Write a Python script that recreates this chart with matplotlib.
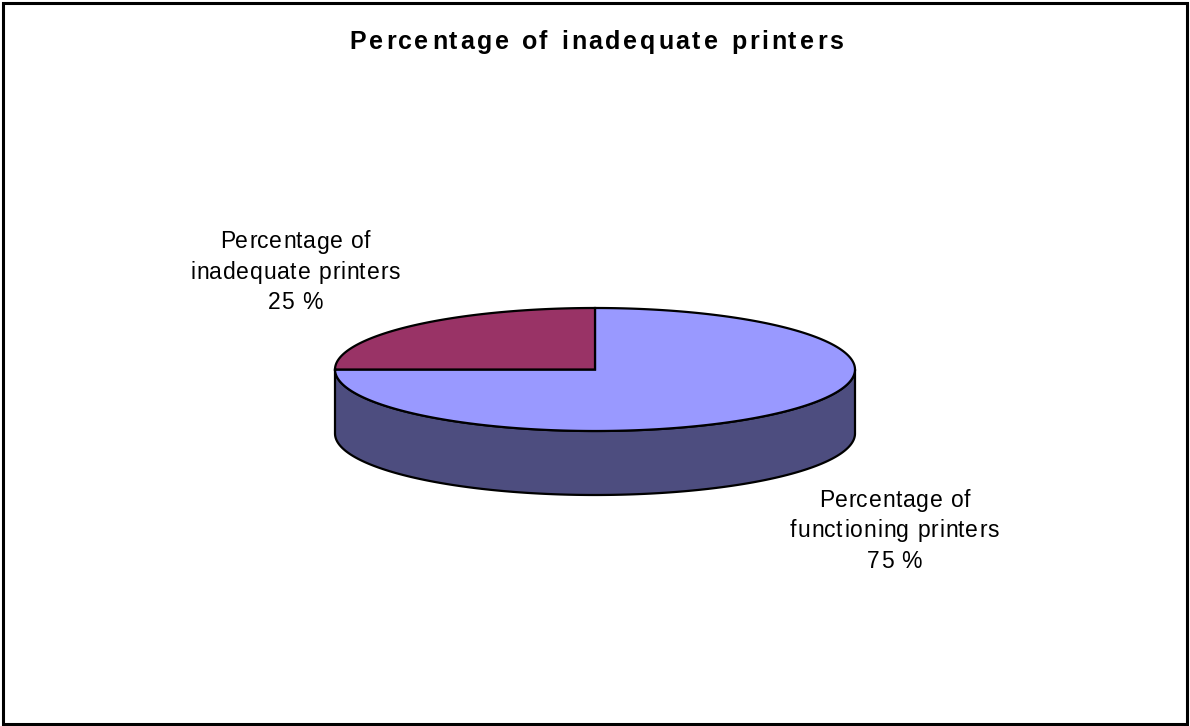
import numpy as np
import matplotlib.pyplot as plt
from matplotlib.patches import Polygon, Rectangle
from matplotlib.font_manager import FontProperties, findfont, get_font

# slice data, drawn clockwise from 12 o'clock
labels = ["Percentage of\nfunctioning printers", "Percentage of\ninadequate printers"]
values = [75, 25]
top_colors = ["#9999ff", "#993366"]
side_colors = ["#4d4d7f", "#4d1a33"]
title = "Percentage of inadequate printers"

W, H = 1190, 726
DPI = 100
cx, cy = 595, 369.5      # centre of the top face (pixels)
rx, ry = 260, 61.5       # ellipse radii
depth = 64               # thickness of the disc

fig = plt.figure(figsize=(W / DPI, H / DPI), dpi=DPI)
ax = fig.add_axes([0, 0, 1, 1])
ax.set_xlim(0, W)
ax.set_ylim(H, 0)
ax.axis("off")

def ell(t, dy=0):
    t = np.radians(t)
    return np.column_stack([cx + rx * np.cos(t), cy - ry * np.sin(t) + dy])

total = float(sum(values))
bounds = [90.0]
for v in values:
    bounds.append(bounds[-1] - 360 * v / total)

# side walls: only the front half (180..360 deg) is visible
for i in range(len(values)):
    lo, hi = bounds[i + 1], bounds[i]
    for shift in (0, 360, -360):
        s_lo, s_hi = max(lo + shift, -180), min(hi + shift, 0)
        if s_hi > s_lo:
            t = np.linspace(s_lo, s_hi, 200)
            pts = np.vstack([ell(t), ell(t[::-1], depth)])
            ax.add_patch(Polygon(pts, closed=True, fc=side_colors[i], ec="black", lw=1.6, joinstyle="round"))

# top faces
for i in range(len(values)):
    t = np.linspace(bounds[i], bounds[i + 1], 300)
    pts = np.vstack([[cx, cy], ell(t)])
    ax.add_patch(Polygon(pts, closed=True, fc=top_colors[i], ec="black", lw=1.6, joinstyle="miter"))

# text with extra letter spacing, laid out one glyph at a time
fnt = "Liberation Sans"

def spaced_line(x, y, s, size, weight="normal", track=0.0):
    prop = FontProperties(family=fnt, size=size, weight=weight)
    font = get_font(findfont(prop))
    font.set_size(size, DPI)
    glyphs = [font.load_char(ord(c)) for c in s]
    adv = [g.linearHoriAdvance / 65536 for g in glyphs]
    width = sum(adv) + track * (len(s) - 1)
    x0 = x - width / 2
    for c, g, a in zip(s, glyphs, adv):
        if not c.isspace():
            ax.text(x0 + g.horiBearingX / 64, y, c, ha="left", va="baseline",
                    fontproperties=prop)
        x0 += a + track

def spaced_block(x, y, s, size, weight="normal", track=0.0, step=30.3):
    for k, line in enumerate(s.split("\n")):
        spaced_line(x, y + k * step, line, size, weight, track)

spaced_line(595, 49, title, 18, "bold", 2.8)

lab_pos = [(893.5, 507), (294, 248.5)]
for (x, y), lab, v in zip(lab_pos, labels, values):
    spaced_block(x, y, f"{lab}\n{v} %", 16.5, track=0.8)

# chart frame
fig.patches.append(Rectangle((3, 2), W - 6, H - 5, transform=None, fill=False, ec="black", lw=2.2))

fig.savefig("out.png", dpi=DPI)
